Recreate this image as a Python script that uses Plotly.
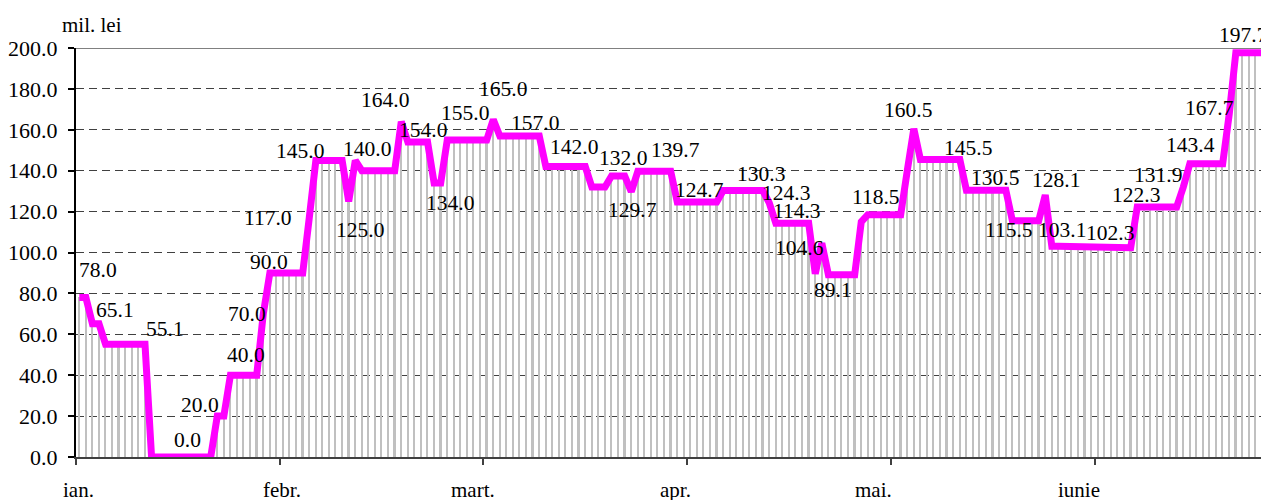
import plotly.graph_objects as go

# Daily values (mil. lei), Jan - Jun
values = [
    78.0, 78.0,
    65.1, 65.1,
    55.1, 55.1, 55.1, 55.1, 55.1, 55.1, 55.1,
    0.0, 0.0, 0.0, 0.0, 0.0, 0.0, 0.0, 0.0, 0.0, 0.0,
    20.0, 20.0,
    40.0, 40.0, 40.0, 40.0, 40.0,
    70.0,
    90.0, 90.0, 90.0, 90.0, 90.0, 90.0,
    117.0,
    145.0, 145.0, 145.0, 145.0, 145.0,
    125.0,
    145.0,
    140.0, 140.0, 140.0, 140.0, 140.0, 140.0,
    164.0,
    154.0, 154.0, 154.0, 154.0,
    134.0, 134.0,
    155.0, 155.0, 155.0, 155.0, 155.0, 155.0, 155.0,
    165.0,
    157.0, 157.0, 157.0, 157.0, 157.0, 157.0, 157.0,
    142.0, 142.0, 142.0, 142.0, 142.0, 142.0, 142.0,
    132.0, 132.0, 132.0,
    137.4, 137.4, 137.4,
    129.7,
    139.7, 139.7, 139.7, 139.7, 139.7, 139.7,
    124.7, 124.7, 124.7, 124.7, 124.7, 124.7, 124.7,
    130.3, 130.3, 130.3, 130.3, 130.3, 130.3, 130.3,
    124.3,
    114.3, 114.3, 114.3, 114.3, 114.3, 114.3,
    89.6,
    104.6,
    89.1, 89.1, 89.1, 89.1, 89.1,
    115.0,
    118.5, 118.5, 118.5, 118.5, 118.5, 118.5,
    140.0,
    160.5,
    145.5, 145.5, 145.5, 145.5, 145.5, 145.5, 145.5,
    130.5, 130.5, 130.5, 130.5, 130.5, 130.5, 130.5,
    115.5, 115.5, 115.5, 115.5, 115.5,
    128.1,
    103.1, 103.1, 103.1, 103.1, 103.1, 103.1,
    102.3, 102.3, 102.3, 102.3, 102.3, 102.3, 102.3,
    122.3, 122.3, 122.3, 122.3, 122.3, 122.3, 122.3,
    131.9,
    143.4, 143.4, 143.4, 143.4, 143.4, 143.4,
    167.7,
    197.7, 197.7, 197.7, 197.7, 197.7, 197.7,
]

days = list(range(len(values)))

# Month labels and category positions of the month tick marks
month_labels = ["ian.", "febr.", "mart.", "apr.", "mai.", "iunie"]
month_ticks = [0, 31, 62, 93, 124, 155]
month_label_pos = [0.35, 31.4, 60.4, 91.3, 121.4, 152.6]

y_ticks = [0, 20, 40, 60, 80, 100, 120, 140, 160, 180, 200]
y_ticktext = ["%.1f" % v for v in y_ticks]

# Labelled points: (day index, x shift px, y shift px)
label_points = [
    (0, 19, 27), (3, 16, 14), (10, 20, 15), (16, 3, 17), (21, -17, 11),
    (25, 2, 20), (28, -16, 0), (29, -1, 11), (35, -41, 0), (36, -16, 9),
    (41, 11, -29), (43, 5, 22), (49, -16, 22), (51, 9, 12), (55, 9, -20),
    (56, 18, 27), (63, 10, 31), (69, 2, 13), (74, 8, 20), (80, 18, 29),
    (84, 1, -18), (88, 18, 21), (94, 3, 12), (104, -2, 17), (105, 17, 10),
    (106, 21, 12), (113, -22, -5), (114, 5, -15), (121, 2, 18), (127, -6, 19),
    (133, 15, 11), (138, 9, 12), (142, -3, -9), (147, 11, 15), (148, 10, 16),
    (155, 12, 15), (161, -1, 12), (168, -25, 12), (170, -6, 19), (175, -20, 6),
    (177, 1, 18),
]

FONT = "Liberation Serif, Times New Roman, DejaVu Serif, serif"
xc = [d + 0.5 for d in days]

fig = go.Figure()
fig.add_trace(go.Bar(
    x=xc, y=values, width=0.25,
    marker=dict(color="#c0c0c0", line=dict(width=0)),
    showlegend=False, hoverinfo="skip",
))
fig.add_trace(go.Scatter(
    x=xc, y=values, mode="lines",
    line=dict(color="#FF00FF", width=7),
    showlegend=False,
))

annotations = []
for idx, dx, dy in label_points:
    annotations.append(dict(
        x=xc[idx], y=values[idx], xref="x", yref="y",
        text="%.1f" % values[idx], showarrow=False,
        xshift=dx, yshift=dy, xanchor="center", yanchor="middle",
        font=dict(family=FONT, size=21.5, color="black"),
    ))
for lab, pos in zip(month_labels, month_label_pos):
    annotations.append(dict(
        x=pos, y=-0.081, xref="x", yref="paper", text=lab, showarrow=False,
        xanchor="center", yanchor="middle",
        font=dict(family=FONT, size=21, color="black"),
    ))
annotations.append(dict(
    x=0.0134, y=1.056, xref="paper", yref="paper", text="mil. lei",
    showarrow=False, xanchor="center", yanchor="middle",
    font=dict(family=FONT, size=21, color="black"),
))

# page body adds an 8px offset; figure sized so the plot area lands at x 76-1269, y 48-457
fig.update_layout(
    width=1261, height=492,
    margin=dict(l=68, r=0, t=40, b=43),
    paper_bgcolor="white", plot_bgcolor="white",
    font=dict(family=FONT, size=21, color="black"),
    annotations=annotations,
    shapes=[dict(type="line", xref="paper", yref="y", x0=0, x1=1, y0=200, y1=200,
                 line=dict(color="#808080", width=2))],
    bargap=0,
)
fig.update_xaxes(
    range=[0, 181.55], tickvals=month_ticks, showticklabels=False,
    ticks="outside", ticklen=6, tickwidth=1.5, tickcolor="#404040",
    showline=True, linecolor="#404040", linewidth=2,
    showgrid=False, zeroline=False,
)
fig.update_yaxes(
    range=[0, 200], tickvals=y_ticks, ticktext=y_ticktext,
    ticks="outside", ticklen=6, tickwidth=1.5, tickcolor="black",
    ticklabelstandoff=6,
    showline=True, linecolor="black", linewidth=2,
    showgrid=True, gridcolor="#404040", gridwidth=1, griddash="8px,5px",
    zeroline=False, tickfont=dict(family=FONT, size=22, color="black"),
)

fig.write_html("out.html")
